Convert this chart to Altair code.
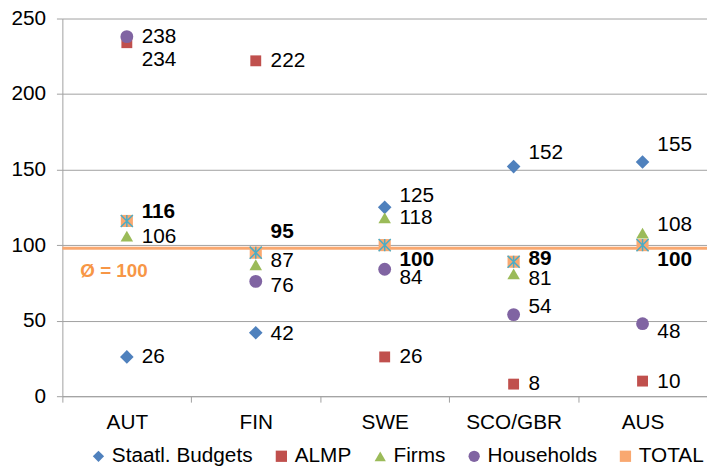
import altair as alt
import pandas as pd

categories = ["AUT", "FIN", "SWE", "SCO/GBR", "AUS"]
series = ["Staatl. Budgets", "ALMP", "Firms", "Households", "TOTAL"]
staatl = [26, 42, 125, 152, 155]
almp = [234, 222, 26, 8, 10]
firms = [106, 87, 118, 81, 108]
households = [238, 76, 84, 54, 48]
total = [116, 95, 100, 89, 100]
avg_line = 98
avg_label = "Ø = 100"

# label nudges in pixels (positive = down), per series per category
nudge_staatl = [0, 1, -11, -14, -17]
nudge_almp = [18, 0, 0, 0, 1]
nudge_firms = [1, -4, 0, 5, -8]
nudge_house = [0, 5, 9, -8, 8]
nudge_total = [-9, -21, 15, -3, 15]

colors = ["#4F81BD", "#C0504D", "#9BBB59", "#8064A2", "#F9A870"]
shapes = ["diamond", "square", "triangle-up", "circle", "square"]
sizes_map = {"Staatl. Budgets": 190, "ALMP": 121, "Firms": 160, "Households": 169, "TOTAL": 150}

H = 382
W = 652
px_per_unit = H / 250.0

rows = []
for s, vals, nud in zip(series, [staatl, almp, firms, households, total],
                        [nudge_staatl, nudge_almp, nudge_firms, nudge_house, nudge_total]):
    for c, v, n in zip(categories, vals, nud):
        rows.append({"cat": c, "series": s, "value": v, "ly": v - n / px_per_unit,
                     "size": sizes_map[s]})
df = pd.DataFrame(rows)

FONT = "Liberation Sans"
FS = 21

xenc = alt.X("cat:N", sort=categories, title=None,
             scale=alt.Scale(paddingInner=0, paddingOuter=0),
             axis=alt.Axis(labelAngle=0, labelFontSize=FS, labelColor="#000", labelFont=FONT,
                           labelAlign="center", labelBaseline="top",
                           tickBand="extent", tickSize=6, tickColor="#A0A0A0",
                           domainColor="#A0A0A0", labelPadding=10, grid=False))
yscale = alt.Scale(domain=[0, 250], nice=False)

base = alt.Chart(df)

points = base.mark_point(filled=True, opacity=1, strokeWidth=0).encode(
    x=xenc,
    y=alt.Y("value:Q", scale=yscale, title=None,
            axis=alt.Axis(values=[0, 50, 100, 150, 200, 250], labelFontSize=FS, labelColor="#000",
                          labelFont=FONT, tickSize=6, tickColor="#A0A0A0", domainColor="#A0A0A0",
                          gridColor="#A0A0A0", labelPadding=11)),
    color=alt.Color("series:N", sort=series,
                    scale=alt.Scale(domain=series, range=colors),
                    legend=alt.Legend(title=None, orient="none", legendX=26, legendY=432,
                                      direction="horizontal", labelFontSize=FS, labelFont=FONT,
                                      labelColor="#000", symbolSize=130, columnPadding=18,
                                      labelOffset=3, symbolStrokeWidth=0)),
    shape=alt.Shape("series:N", sort=series, scale=alt.Scale(domain=series, range=shapes)),
    size=alt.Size("size:Q", scale=None),
)

star = base.transform_filter(alt.datum.series == "TOTAL").mark_point(
    shape="M-1,-1L1,1M1,-1L-1,1M0,-1L0,1", filled=False, stroke="#4BACC6",
    strokeWidth=1.5, size=150, opacity=1
).encode(x=xenc, y=alt.Y("value:Q", scale=yscale))

rule = alt.Chart(pd.DataFrame({"v": [avg_line]})).mark_rule(
    color="#F9A870", strokeWidth=3).encode(y=alt.Y("v:Q", scale=yscale))

avg_text = alt.Chart(pd.DataFrame({"cat": ["AUT"], "v": [83], "t": [avg_label]})).mark_text(
    align="left", baseline="middle", dx=-47, fontSize=19, fontWeight="bold",
    color="#F79646", font=FONT
).encode(x=alt.X("cat:N", sort=categories), y=alt.Y("v:Q", scale=yscale), text="t:N")

labels = base.transform_filter(alt.datum.series != "TOTAL").mark_text(
    align="left", baseline="middle", dx=15, fontSize=FS, color="#000", font=FONT
).encode(x=xenc, y=alt.Y("ly:Q", scale=yscale), text="value:Q")

labels_total = base.transform_filter(alt.datum.series == "TOTAL").mark_text(
    align="left", baseline="middle", dx=15, fontSize=FS, fontWeight="bold", color="#000", font=FONT
).encode(x=xenc, y=alt.Y("ly:Q", scale=yscale), text="value:Q")

chart = alt.layer(rule, avg_text, points, star, labels, labels_total).properties(
    width=W, height=H,
    autosize=alt.AutoSizeParams(type="none"),
    padding={"left": 55, "top": 8, "right": 0, "bottom": 72},
).configure_view(stroke=None).configure_axis(gridWidth=1)

chart.save("out.html", embed_options={"renderer": "svg", "actions": False})
